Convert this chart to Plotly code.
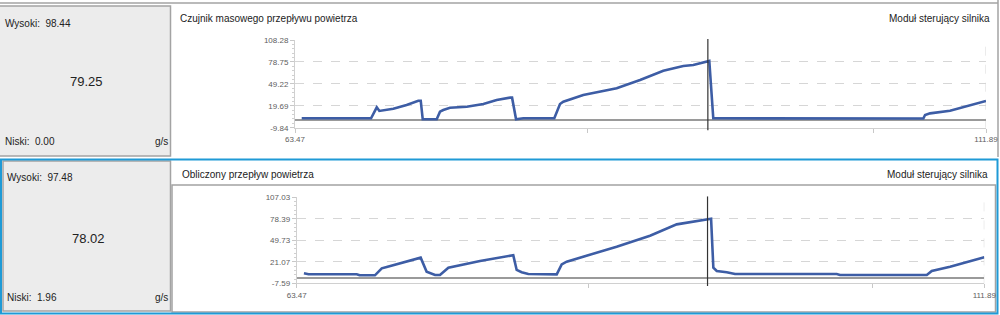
import plotly.graph_objects as go

W, H = 1000, 315

# ---------------- data ----------------
top_title = "Czujnik masowego przepływu powietrza"
bot_title = "Obliczony przepływ powietrza"
module_label = "Moduł sterujący silnika"
unit = "g/s"

top_high, top_low, top_current = "98.44", "0.00", "79.25"
bot_high, bot_low, bot_current = "97.48", "1.96", "78.02"

x_min, x_max = 63.47, 111.89
x_minor_ticks = [84.0, 104.0]
cursor_x = 92.4

top_yticks = [-9.84, 19.69, 49.22, 78.75, 108.28]
bot_yticks = [-7.59, 21.07, 49.73, 78.39, 107.03]

top_x = [63.94, 68.80, 69.20, 69.38, 70.36, 71.29, 72.11, 72.28, 72.42, 73.40,
         73.63, 73.86, 74.33, 75.50, 76.67, 77.60, 78.54, 78.68, 78.96, 79.47,
         81.64, 82.04, 82.27, 83.67, 86.01, 87.65, 89.28, 90.68, 91.38, 92.08,
         92.50, 92.78, 93.90, 94.20, 101.66, 102.00, 102.70, 102.90, 104.00, 104.30,
         107.50, 107.62, 107.97, 109.37, 110.54, 111.89]
top_y = [2.8, 2.8, 17.6, 12.7, 15.7, 20.7, 26.5, 26.5, 1.5, 1.5,
         11.7, 14.0, 17.1, 18.4, 22.1, 27.5, 30.6, 30.6, 1.5, 2.8,
         2.8, 22.1, 25.2, 34.2, 43.2, 54.4, 66.9, 73.3, 74.6, 78.2,
         80.0, 2.8, 2.8, 3.3, 3.3, 2.3, 2.3, 3.1, 3.1, 2.5,
         2.5, 7.3, 9.5, 13.1, 19.4, 26.1]

bot_x = [63.98, 64.30, 67.70, 67.90, 68.98, 69.46, 69.81, 70.63, 72.03, 72.20,
         72.62, 72.98, 73.21, 73.56, 73.79, 74.15, 76.38, 78.49, 78.72, 78.96,
         79.31, 79.78, 81.78, 82.13, 82.48, 86.00, 88.35, 90.23, 91.64, 92.34,
         92.65, 92.81, 93.05, 93.75, 94.34, 101.50, 101.73, 107.84, 108.19, 109.48,
         110.65, 111.89]
bot_y = [5.8, 4.5, 4.5, 3.2, 3.2, 12.5, 14.3, 18.6, 25.8, 26.7,
         8.0, 4.9, 3.6, 3.6, 7.2, 13.3, 22.2, 29.3, 30.0, 10.3,
         7.2, 5.0, 4.5, 17.8, 21.3, 41.3, 55.9, 71.0, 75.5, 78.6,
         78.6, 13.3, 8.9, 7.2, 4.9, 4.9, 3.6, 3.6, 8.9, 14.6,
         20.5, 27.2]

# ---------------- styles ----------------
FONT = "Liberation Sans"
LINE_BLUE = "#3d5da5"
FRAME_GRAY = "#a3a3a3"
BOX_FILL = "#ececec"
SEL_BLUE = "#1f9ad6"
GRID = "#d6d6d6"


def px(x):
    return x / W


def py(y):
    return 1 - y / H


fig = go.Figure()
fig.add_trace(go.Scatter(x=top_x, y=top_y, mode="lines", xaxis="x", yaxis="y",
                         line=dict(color=LINE_BLUE, width=2.6), showlegend=False,
                         hoverinfo="skip"))
fig.add_trace(go.Scatter(x=bot_x, y=bot_y, mode="lines", xaxis="x2", yaxis="y2",
                         line=dict(color=LINE_BLUE, width=2.6), showlegend=False,
                         hoverinfo="skip"))


def xaxis_cfg(domain, anchor):
    return dict(domain=domain, anchor=anchor, range=[x_min, x_max],
                tickvals=[x_min] + x_minor_ticks + [x_max],
                ticktext=[f"{x_min:.2f}", "", "", f"{x_max:.2f}"],
                ticks="outside", ticklen=4, tickcolor="#c8c8c8",
                showgrid=False, zeroline=False, automargin=False,
                showline=True, linecolor="#d0d0d0", linewidth=1,
                tickfont=dict(family=FONT, size=8, color="#606060"),
                fixedrange=True)


def yaxis_cfg(domain, anchor, ticks):
    step = ticks[1] - ticks[0]
    return dict(domain=domain, anchor=anchor, range=[ticks[0], ticks[-1]],
                tickvals=ticks, ticktext=[f"{t:.2f}" for t in ticks],
                ticks="outside", ticklen=4, tickcolor="#c8c8c8",
                minor=dict(ticks="outside", ticklen=2, tickcolor="#d0d0d0",
                           tick0=ticks[0], dtick=step / 5, showgrid=False),
                showgrid=True, gridcolor=GRID, griddash="dash", gridwidth=1,
                zeroline=True, zerolinecolor="#9a9a9a", zerolinewidth=1.6,
                showline=True, linecolor="#d0d0d0", linewidth=1, automargin=False,
                tickfont=dict(family=FONT, size=8, color="#606060"),
                fixedrange=True)


top_plot = dict(x0=295, x1=986, y0=40, y1=127.7)
bot_plot = dict(x0=296.7, x1=984.3, y0=197.3, y1=283.4)

fig.update_layout(
    template="none",
    width=W, height=H, margin=dict(l=0, r=0, t=0, b=0, pad=0), autosize=False,
    paper_bgcolor="white", plot_bgcolor="rgba(0,0,0,0)",
    xaxis=xaxis_cfg([px(top_plot["x0"]), px(top_plot["x1"])], "y"),
    yaxis=yaxis_cfg([py(top_plot["y1"]), py(top_plot["y0"])], "x", top_yticks),
    xaxis2=xaxis_cfg([px(bot_plot["x0"]), px(bot_plot["x1"])], "y2"),
    yaxis2=yaxis_cfg([py(bot_plot["y1"]), py(bot_plot["y0"])], "x2", bot_yticks),
)

shapes = []


def rect(x0, y0, x1, y1, fill=None, color=FRAME_GRAY, width=1.5, layer="below"):
    shapes.append(dict(type="rect", xref="paper", yref="paper",
                       x0=px(x0), x1=px(x1), y0=py(y1), y1=py(y0),
                       fillcolor=fill if fill else "rgba(0,0,0,0)",
                       line=dict(color=color, width=width), layer=layer))


def hline(x0, x1, y, color=FRAME_GRAY, width=1.5):
    shapes.append(dict(type="line", xref="paper", yref="paper",
                       x0=px(x0), x1=px(x1), y0=py(y), y1=py(y),
                       line=dict(color=color, width=width), layer="below"))


def vline(x, y0, y1, color=FRAME_GRAY, width=1.5):
    shapes.append(dict(type="line", xref="paper", yref="paper",
                       x0=px(x), x1=px(x), y0=py(y0), y1=py(y1),
                       line=dict(color=color, width=width), layer="below"))


# top panel frame
hline(0, 998, 3)
vline(998, 0, 157)
rect(-2, 6, 170.5, 156, fill=BOX_FILL)
# bottom (selected) panel
rect(3, 161, 170.5, 311, fill=BOX_FILL)
rect(172, 185, 995.5, 312)
rect(1, 159.5, 997.5, 313.5, color=SEL_BLUE, width=2)

# right-edge dashed grid line and cursor lines
for xa, ya in (("x", "y"), ("x2", "y2")):
    shapes.append(dict(type="line", xref=xa, yref=f"{ya} domain",
                       x0=x_max, x1=x_max, y0=0, y1=1,
                       line=dict(color=GRID, width=1, dash="dash"), layer="below"))
    shapes.append(dict(type="line", xref=xa, yref=f"{ya} domain",
                       x0=cursor_x, x1=cursor_x, y0=-0.03, y1=1.01,
                       line=dict(color="#333333", width=1.2), layer="above"))

fig.update_layout(shapes=shapes)

ann = []


def text(x, y, s, size=10, anchor="left", color="#222222"):
    ann.append(dict(x=px(x), y=py(y), xref="paper", yref="paper", text=s,
                    showarrow=False, xanchor=anchor, yanchor="middle",
                    font=dict(family=FONT, size=size, color=color)))


text(3, 24, f"Wysoki:  {top_high}")
text(86, 82, top_current, size=13, anchor="center")
text(3, 141, f"Niski:  {top_low}")
text(170, 141, unit, anchor="right")
text(178, 18, top_title)
text(992, 18, module_label, anchor="right")

text(5, 177, f"Wysoki:  {bot_high}")
text(88, 238, bot_current, size=13, anchor="center")
text(5, 297, f"Niski:  {bot_low}")
text(170, 297, unit, anchor="right")
text(180, 174, bot_title)
text(990, 174, module_label, anchor="right")

fig.update_layout(annotations=ann)

fig.write_html(
    "out.html",
    config=dict(displayModeBar=False),
    post_script="document.body.style.margin='0';document.body.style.overflow='hidden';",
)
